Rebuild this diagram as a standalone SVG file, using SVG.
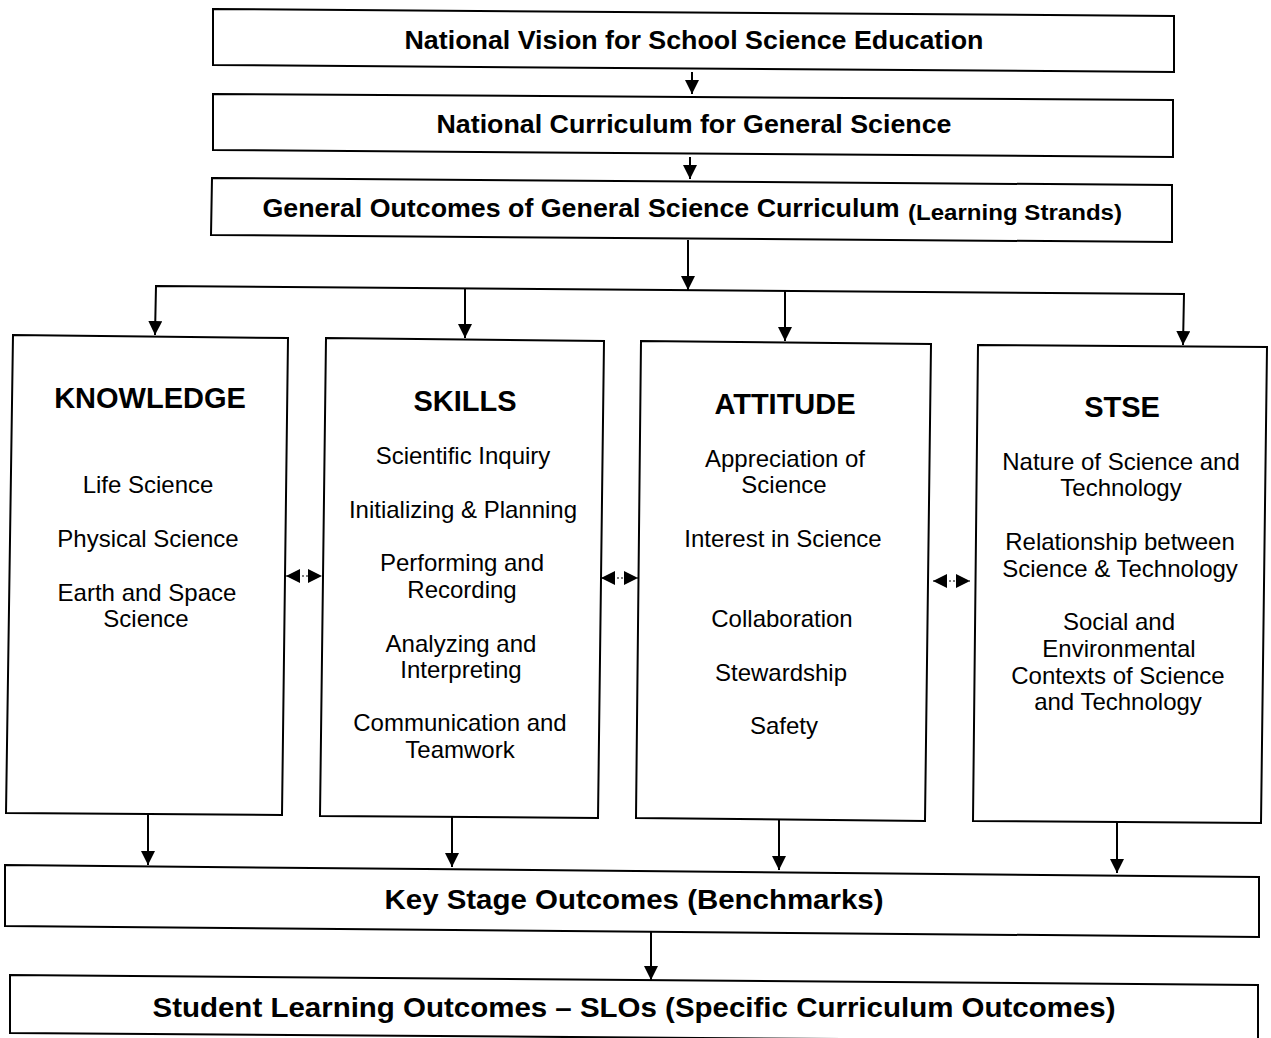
<svg xmlns="http://www.w3.org/2000/svg" width="1271" height="1038" viewBox="0 0 1271 1038">
<style>
.box{fill:#fff;stroke:#000;stroke-width:2}
.t{font-family:"Liberation Sans",Arial,sans-serif;fill:#000;text-anchor:middle}
.b{font-weight:bold}
.h{font-weight:bold;font-size:29px}
.r{font-size:24px}
.c{fill:none;stroke:#000;stroke-width:2}
.d{fill:none;stroke:#000;stroke-width:1.2;stroke-dasharray:2 2}
</style>
<defs>
<marker id="ah" viewBox="0 0 10 10" refX="10" refY="5" markerWidth="14" markerHeight="14" markerUnits="userSpaceOnUse" orient="auto-start-reverse">
<path d="M0,0 L10,5 L0,10 z" fill="#000"/>
</marker>
</defs>
<rect width="1271" height="1038" fill="#fff"/>
<g id="vision"><polygon class="box" points="213,9 1174,16 1174,72 213,65"/>
<text class="t b" x="694" y="49" font-size="26.5" textLength="579" lengthAdjust="spacingAndGlyphs">National Vision for School Science Education</text></g>
<g id="curriculum"><polygon class="box" points="213,94 1173,100 1173,157 213,150"/>
<text class="t b" x="694" y="133" font-size="26.5" textLength="515" lengthAdjust="spacingAndGlyphs">National Curriculum for General Science</text></g>
<g id="outcomes"><polygon class="box" points="212,178 1172,185 1172,242 211,235"/>
<text class="t b" x="581" y="217" font-size="26.5" textLength="637" lengthAdjust="spacingAndGlyphs">General Outcomes of General Science Curriculum</text>
<text class="t b" x="1015" y="220" font-size="21.5" textLength="214" lengthAdjust="spacingAndGlyphs">(Learning Strands)</text></g>
<g id="knowledge"><polygon class="box" points="13,335 288,338 282,815 6,813"/>
<text class="t h" x="150" y="408">KNOWLEDGE</text>
<text class="t r" x="148" y="493">Life Science</text>
<text class="t r" x="148" y="547">Physical Science</text>
<text class="t r" x="147" y="601">Earth and Space</text>
<text class="t r" x="146" y="627">Science</text></g>
<g id="skills"><polygon class="box" points="326,338 604,341 598,818 320,816"/>
<text class="t h" x="465" y="411">SKILLS</text>
<text class="t r" x="463" y="464">Scientific Inquiry</text>
<text class="t r" x="463" y="518">Initializing &amp; Planning</text>
<text class="t r" x="462" y="571">Performing and</text>
<text class="t r" x="462" y="598">Recording</text>
<text class="t r" x="461" y="652">Analyzing and</text>
<text class="t r" x="461" y="678">Interpreting</text>
<text class="t r" x="460" y="731">Communication and</text>
<text class="t r" x="460" y="758">Teamwork</text></g>
<g id="attitude"><polygon class="box" points="641,341 931,344 925,821 636,818"/>
<text class="t h" x="785" y="414">ATTITUDE</text>
<text class="t r" x="785" y="467">Appreciation of</text>
<text class="t r" x="784" y="493">Science</text>
<text class="t r" x="783" y="547">Interest in Science</text>
<text class="t r" x="782" y="627">Collaboration</text>
<text class="t r" x="781" y="681">Stewardship</text>
<text class="t r" x="784" y="734">Safety</text></g>
<g id="stse"><polygon class="box" points="978,345 1267,347 1261,823 973,821"/>
<text class="t h" x="1122" y="417">STSE</text>
<text class="t r" x="1121" y="470">Nature of Science and</text>
<text class="t r" x="1121" y="496">Technology</text>
<text class="t r" x="1120" y="550">Relationship between</text>
<text class="t r" x="1120" y="577">Science &amp; Technology</text>
<text class="t r" x="1119" y="630">Social and</text>
<text class="t r" x="1119" y="657">Environmental</text>
<text class="t r" x="1118" y="684">Contexts of Science</text>
<text class="t r" x="1118" y="710">and Technology</text></g>
<g id="keystage"><polygon class="box" points="5,865 1259,877 1259,937 5,926"/>
<text class="t b" x="634" y="909" font-size="27" textLength="499" lengthAdjust="spacingAndGlyphs">Key Stage Outcomes (Benchmarks)</text></g>
<g id="slo"><polygon class="box" points="10,975 1258,985 1258,1042 10,1033"/>
<text class="t b" x="634" y="1017" font-size="27" textLength="963" lengthAdjust="spacingAndGlyphs">Student Learning Outcomes – SLOs (Specific Curriculum Outcomes)</text></g>
<g id="connectors">
<path class="c" d="M692,72 L692,94" marker-end="url(#ah)"/>
<path class="c" d="M690,157 L690,179" marker-end="url(#ah)"/>
<path class="c" d="M688,240 L688,290" marker-end="url(#ah)"/>
<path class="c" d="M155,335 L156,286 L1184,294 L1183,345" marker-start="url(#ah)" marker-end="url(#ah)"/>
<path class="c" d="M465,288 L465,338" marker-end="url(#ah)"/>
<path class="c" d="M785,291 L785,341" marker-end="url(#ah)"/>
<path class="c" d="M148,815 L148,865" marker-end="url(#ah)"/>
<path class="c" d="M452,817 L452,867" marker-end="url(#ah)"/>
<path class="c" d="M779,820 L779,870" marker-end="url(#ah)"/>
<path class="c" d="M1117,822 L1117,873" marker-end="url(#ah)"/>
<path class="c" d="M651,932 L651,980" marker-end="url(#ah)"/>
<path class="d" d="M286,576 L322,576" marker-start="url(#ah)" marker-end="url(#ah)"/>
<path class="d" d="M601,578 L638,578" marker-start="url(#ah)" marker-end="url(#ah)"/>
<path class="d" d="M933,581 L970,581" marker-start="url(#ah)" marker-end="url(#ah)"/>
</g>
</svg>
